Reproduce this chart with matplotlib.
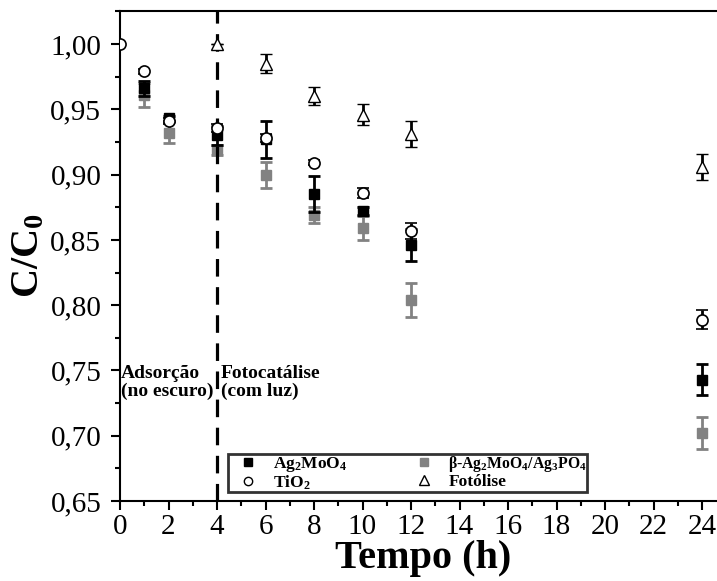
import numpy as np
import matplotlib
matplotlib.use("Agg")
import matplotlib.pyplot as plt
from matplotlib.lines import Line2D
from matplotlib.ticker import MultipleLocator, FuncFormatter

plt.rcParams.update({
    "font.family": "Liberation Serif",
    "mathtext.fontset": "custom",
    "mathtext.rm": "Liberation Serif:bold",
    "mathtext.it": "Liberation Serif:bold",
    "mathtext.bf": "Liberation Serif:bold",
})

# data
t_ag = [1, 2, 4, 6, 8, 10, 12, 24]
c_ag = [0.966, 0.943, 0.930, 0.927, 0.885, 0.872, 0.846, 0.743]
e_ag = [0.006, 0.002, 0.007, 0.014, 0.014, 0.003, 0.012, 0.012]

t_het = [1, 2, 4, 6, 8, 10, 12, 24]
c_het = [0.961, 0.932, 0.919, 0.900, 0.869, 0.859, 0.804, 0.702]
e_het = [0.009, 0.008, 0.004, 0.010, 0.006, 0.009, 0.013, 0.012]

t_tio2 = [0, 1, 2, 4, 6, 8, 10, 12, 24]
c_tio2 = [1.000, 0.979, 0.941, 0.936, 0.928, 0.909, 0.886, 0.857, 0.789]
e_tio2 = [0.0, 0.002, 0.002, 0.003, 0.003, 0.002, 0.004, 0.006, 0.007]

t_fot = [4, 6, 8, 10, 12, 24]
c_fot = [1.000, 0.985, 0.960, 0.946, 0.931, 0.906]
e_fot = [0.0, 0.007, 0.007, 0.008, 0.010, 0.010]

gray = "#828282"

fig = plt.figure(figsize=(7.17, 5.81), dpi=100)
ax = fig.add_axes([120 / 717, 80 / 581, 606.25 / 717, 490 / 581])

eb = dict(ls="none", capsize=4, capthick=2, elinewidth=2)
ax.errorbar(t_het, c_het, yerr=e_het, fmt="s", ms=7.5, color=gray, mec=gray, zorder=3, **eb)
ax.errorbar(t_ag, c_ag, yerr=e_ag, fmt="s", ms=7.5, color="black", zorder=4, **eb)
ax.errorbar(t_tio2, c_tio2, yerr=e_tio2, fmt="o", ms=8, mfc="white", mec="black",
            mew=1.2, color="black", zorder=5, **eb)
ax.axvline(4, color="black", lw=2.3, ls=(0, (5.5, 3.3)), zorder=4.5)
ax.errorbar(t_fot, c_fot, yerr=e_fot, fmt="^", ms=9, mfc="white", mec="black",
            mew=1.0, color="black", zorder=6, **eb)

ax.text(0.05, 0.741, "Adsorção\n(no escuro)", fontsize=14, fontweight="bold",
        va="center", ha="left", linespacing=1.05)
ax.text(4.15, 0.741, "Fotocatálise\n(com luz)", fontsize=14, fontweight="bold",
        va="center", ha="left", linespacing=1.05)

ax.set_xlim(0, 25)
ax.set_ylim(0.65, 1.0253)
ax.xaxis.set_major_locator(MultipleLocator(2))
ax.xaxis.set_minor_locator(MultipleLocator(1))
ax.yaxis.set_major_locator(MultipleLocator(0.05))
ax.yaxis.set_minor_locator(MultipleLocator(0.025))
ax.yaxis.set_major_formatter(FuncFormatter(lambda v, p: f"{v:.2f}".replace(".", ",")))
ax.tick_params(which="major", direction="out", length=6.5, width=1.5, labelsize=21, pad=3)
ax.tick_params(axis="y", which="major", pad=7)
ax.tick_params(which="minor", direction="out", length=3.5, width=1.5)
for s in ax.spines.values():
    s.set_linewidth(1.5)

ax.set_xlabel("Tempo (h)", fontsize=29, fontweight="bold", labelpad=0)
ax.set_ylabel("C/C$_0$", fontsize=29, fontweight="bold", labelpad=2)

handles = [
    Line2D([], [], ls="none", marker="s", ms=6, color="black"),
    Line2D([], [], ls="none", marker="o", ms=6, mfc="white", mec="black", mew=1),
    Line2D([], [], ls="none", marker="s", ms=6, color=gray),
    Line2D([], [], ls="none", marker="^", ms=6.5, mfc="white", mec="black", mew=1),
]
labels = ["Ag$_2$MoO$_4$", "TiO$_2$", "β-Ag$_2$MoO$_4$/Ag$_3$PO$_4$", "Fotólise"]
leg = ax.legend(handles, labels, ncol=2, loc="lower left",
                bbox_to_anchor=(0.178, 0.018, 0.593, 0.063), mode="expand",
                borderaxespad=0, prop={"weight": "bold", "size": 12.5},
                frameon=True, fancybox=False, edgecolor="black",
                handlelength=2.3, handletextpad=0.25, borderpad=0.02,
                labelspacing=-0.05, columnspacing=2.0)
leg.get_texts()[2].set_fontsize(11.3)
leg.get_frame().set_linewidth(2)
leg.set_zorder(10)

fig.savefig("out.png", dpi=100)
